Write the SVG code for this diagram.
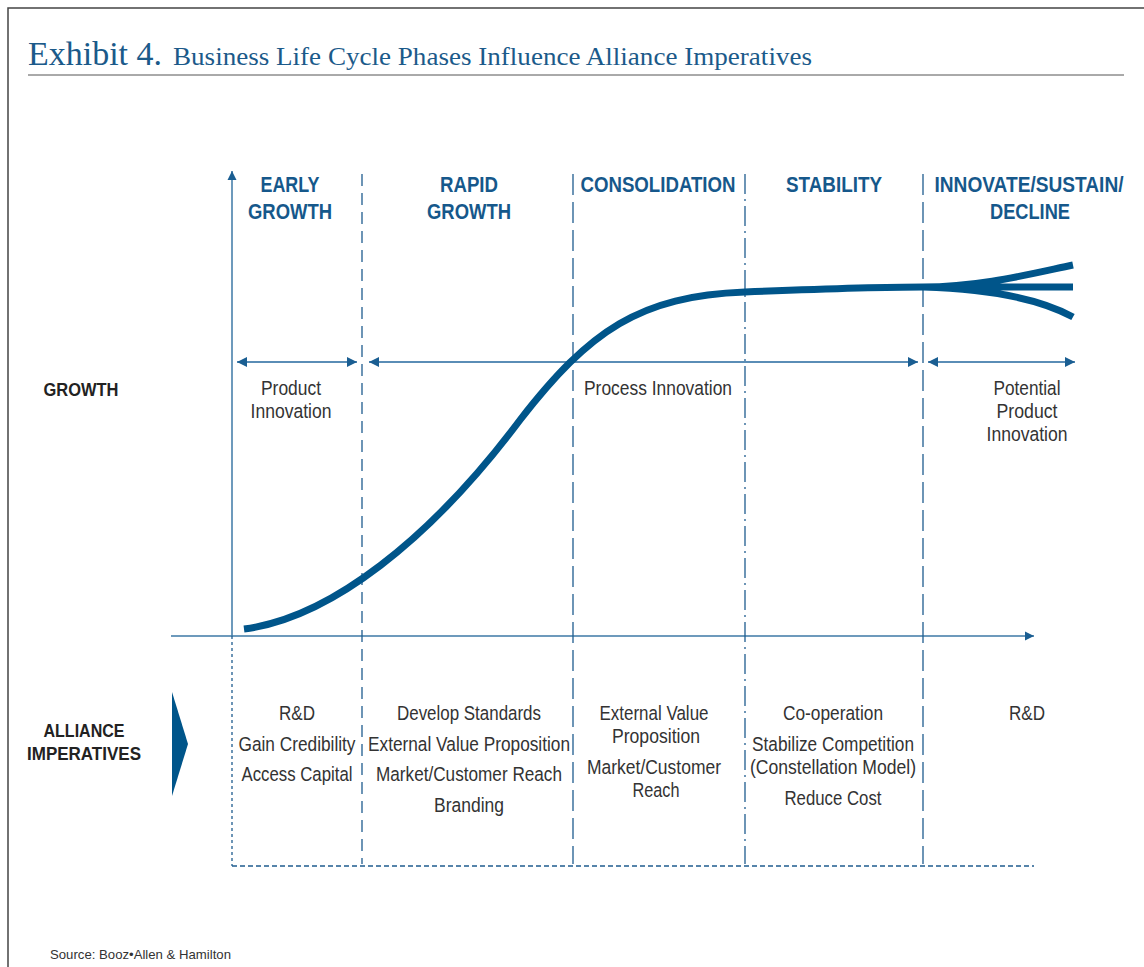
<svg xmlns="http://www.w3.org/2000/svg" width="1144" height="967" viewBox="0 0 1144 967">
<style>
.hdr{font-family:"Liberation Sans",Arial,sans-serif;font-weight:bold;font-size:22px;fill:#16588b;text-anchor:middle}
.lbl{font-family:"Liberation Sans",Arial,sans-serif;font-weight:bold;font-size:19px;fill:#222;text-anchor:middle}
.txt{font-family:"Liberation Sans",Arial,sans-serif;font-size:20.5px;fill:#333;text-anchor:middle}
.ttl{font-family:"Liberation Serif","Times New Roman",serif;fill:#1b5a8a}
.div{stroke:#1f5c8f;stroke-width:1.3;fill:none}
.rng{stroke:#5a8db6;stroke-width:2;fill:none;marker-start:url(#ah);marker-end:url(#ah)}
</style>
<defs>
<marker id="ah" viewBox="0 0 10 10" refX="10" refY="5" markerWidth="10" markerHeight="10" markerUnits="userSpaceOnUse" orient="auto-start-reverse">
<path d="M0,0 L10,5 L0,10 Z" fill="#1a5e92"/>
</marker>
<marker id="ax" viewBox="0 0 10 10" refX="10" refY="5" markerWidth="9" markerHeight="10" markerUnits="userSpaceOnUse" orient="auto">
<path d="M0,0 L10,5 L0,10 Z" fill="#1a5e92"/>
</marker>
</defs>
<rect width="1144" height="967" fill="#fff"/>
<g id="frame">
<path d="M8,967 V8 H1144" stroke="#444" stroke-width="1.5" fill="none"/>
<line x1="28" y1="75" x2="1124" y2="75" stroke="#555" stroke-width="1"/>
</g>
<g id="title">
<text class="ttl" x="28" y="65" font-size="33" textLength="134" lengthAdjust="spacingAndGlyphs">Exhibit 4.</text>
<text class="ttl" x="173" y="65" font-size="26" textLength="639" lengthAdjust="spacingAndGlyphs">Business Life Cycle Phases Influence Alliance Imperatives</text>
</g>
<g id="connectors">
<line x1="232" y1="636" x2="232" y2="171" stroke="#3d78a6" stroke-width="1.5" marker-end="url(#ax)"/>
<line x1="171" y1="636" x2="1034" y2="636" stroke="#3d78a6" stroke-width="1.5" marker-end="url(#ax)"/>
<line x1="232" y1="636" x2="232" y2="866" class="div" stroke-dasharray="3 3"/>
<line x1="232" y1="866" x2="1034" y2="866" class="div" stroke-dasharray="5 3"/>
<line x1="362" y1="174" x2="362" y2="864" class="div" stroke-dasharray="12 7"/>
<line x1="573" y1="174" x2="573" y2="864" class="div" stroke-dasharray="21 7"/>
<line x1="745" y1="174" x2="745" y2="864" class="div" stroke-dasharray="20 5 2 5"/>
<line x1="923" y1="174" x2="923" y2="864" class="div" stroke-dasharray="21 7"/>
<line x1="237" y1="362" x2="357" y2="362" class="rng"/>
<line x1="369" y1="362" x2="918" y2="362" class="rng"/>
<line x1="928" y1="362" x2="1075" y2="362" class="rng"/>
<path d="M244,629 C330,618 430,540 520,420 C590,330 640,296 745,292 C820,289 880,287 923,287" stroke="#00558a" stroke-width="7" fill="none"/>
<path d="M923,287 C980,287 1030,274 1073,265 M923,287 L1073,287 M923,287 C990,289 1040,299 1073,317" stroke="#00558a" stroke-width="7" fill="none"/>
<path d="M172,692 L188,744 L172,796 Z" fill="#00558a"/>
</g>
<g id="h-early"><text class="hdr" x="290" y="192" textLength="59" lengthAdjust="spacingAndGlyphs">EARLY</text><text class="hdr" x="290" y="219" textLength="84" lengthAdjust="spacingAndGlyphs">GROWTH</text></g>
<g id="h-rapid"><text class="hdr" x="469" y="192" textLength="58" lengthAdjust="spacingAndGlyphs">RAPID</text><text class="hdr" x="469" y="219" textLength="84" lengthAdjust="spacingAndGlyphs">GROWTH</text></g>
<g id="h-consolidation"><text class="hdr" x="658" y="192" textLength="155" lengthAdjust="spacingAndGlyphs">CONSOLIDATION</text></g>
<g id="h-stability"><text class="hdr" x="834" y="192" textLength="96" lengthAdjust="spacingAndGlyphs">STABILITY</text></g>
<g id="h-innovate"><text class="hdr" x="1029" y="192" font-size="20" textLength="189" lengthAdjust="spacingAndGlyphs">INNOVATE/SUSTAIN/</text><text class="hdr" x="1030" y="219" textLength="80" lengthAdjust="spacingAndGlyphs">DECLINE</text></g>
<g id="l-growth"><text class="lbl" x="81" y="396" textLength="75" lengthAdjust="spacingAndGlyphs">GROWTH</text></g>
<g id="l-alliance"><text class="lbl" x="84" y="737" textLength="81" lengthAdjust="spacingAndGlyphs">ALLIANCE</text><text class="lbl" x="84" y="760" textLength="114" lengthAdjust="spacingAndGlyphs">IMPERATIVES</text></g>
<g id="g-product"><text class="txt" x="291" y="395" textLength="60" lengthAdjust="spacingAndGlyphs">Product</text><text class="txt" x="291" y="418" textLength="81" lengthAdjust="spacingAndGlyphs">Innovation</text></g>
<g id="g-process"><text class="txt" x="658" y="395" textLength="148" lengthAdjust="spacingAndGlyphs">Process Innovation</text></g>
<g id="g-potential"><text class="txt" x="1027" y="395" textLength="67" lengthAdjust="spacingAndGlyphs">Potential</text><text class="txt" x="1027" y="418" textLength="61" lengthAdjust="spacingAndGlyphs">Product</text><text class="txt" x="1027" y="441" textLength="81" lengthAdjust="spacingAndGlyphs">Innovation</text></g>
<g id="a-early"><text class="txt" x="297" y="720" textLength="36" lengthAdjust="spacingAndGlyphs">R&amp;D</text><text class="txt" x="297" y="751" textLength="117" lengthAdjust="spacingAndGlyphs">Gain Credibility</text><text class="txt" x="297" y="781" textLength="111" lengthAdjust="spacingAndGlyphs">Access Capital</text></g>
<g id="a-rapid"><text class="txt" x="469" y="720" textLength="144" lengthAdjust="spacingAndGlyphs">Develop Standards</text><text class="txt" x="469" y="751" textLength="202" lengthAdjust="spacingAndGlyphs">External Value Proposition</text><text class="txt" x="469" y="781" textLength="186" lengthAdjust="spacingAndGlyphs">Market/Customer Reach</text><text class="txt" x="469" y="812" textLength="70" lengthAdjust="spacingAndGlyphs">Branding</text></g>
<g id="a-consolidation"><text class="txt" x="654" y="720" textLength="109" lengthAdjust="spacingAndGlyphs">External Value</text><text class="txt" x="656" y="743" textLength="88" lengthAdjust="spacingAndGlyphs">Proposition</text><text class="txt" x="654" y="774" textLength="134" lengthAdjust="spacingAndGlyphs">Market/Customer</text><text class="txt" x="656" y="797" textLength="47" lengthAdjust="spacingAndGlyphs">Reach</text></g>
<g id="a-stability"><text class="txt" x="833" y="720" textLength="100" lengthAdjust="spacingAndGlyphs">Co-operation</text><text class="txt" x="833" y="751" textLength="162" lengthAdjust="spacingAndGlyphs">Stabilize Competition</text><text class="txt" x="833" y="774" textLength="166" lengthAdjust="spacingAndGlyphs">(Constellation Model)</text><text class="txt" x="833" y="805" textLength="97" lengthAdjust="spacingAndGlyphs">Reduce Cost</text></g>
<g id="a-innovate"><text class="txt" x="1027" y="720" textLength="36" lengthAdjust="spacingAndGlyphs">R&amp;D</text></g>
<g id="source"><text x="50" y="959" font-family="'Liberation Sans',Arial,sans-serif" font-size="13" fill="#333" textLength="181" lengthAdjust="spacingAndGlyphs">Source: Booz•Allen &amp; Hamilton</text></g>
</svg>
